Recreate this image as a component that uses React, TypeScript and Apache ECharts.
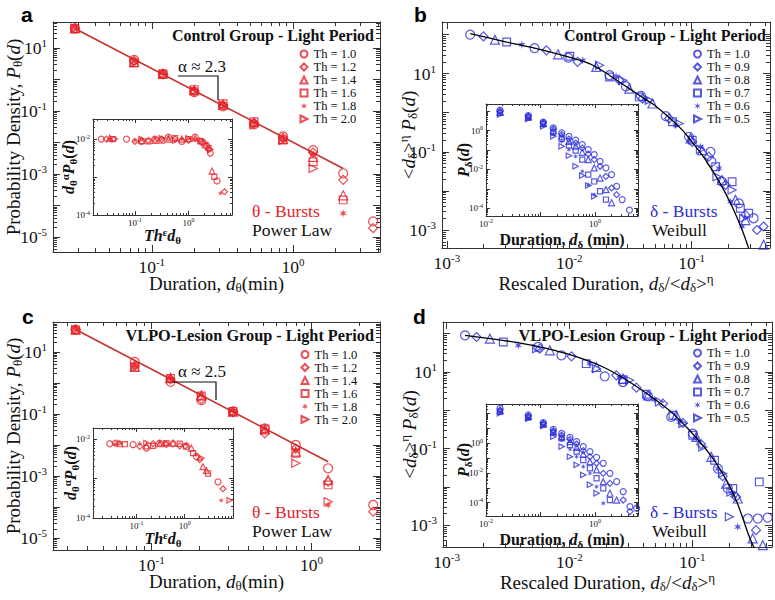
import React, { useEffect, useRef } from 'react';
import * as echarts from 'echarts';

const SERIF = '"Liberation Serif", "Times New Roman", serif';
const SANS = '"Liberation Sans", Arial, sans-serif';
const RED = '#e3242b';
const RED_LINE = '#c9302c';
const BLUE = '#2d2fd8';
const INK = '#111111';
const FRAME = '#333333';

const TH_THETA = ['Th = 1.0', 'Th = 1.2', 'Th = 1.4', 'Th = 1.6', 'Th = 1.8', 'Th = 2.0'];
const TH_DELTA = ['Th = 1.0', 'Th = 0.9', 'Th = 0.8', 'Th = 0.7', 'Th = 0.6', 'Th = 0.5'];

// ---------- Panel a : Control group, theta bursts ----------
const aDur = [0.0285, 0.075, 0.12, 0.2, 0.32, 0.53, 0.85, 1.39, 2.27, 3.7];
const aTh10 = [42, 4.2, 1.5, 0.4, 0.14, 0.038, 0.0155, 0.0057, 0.00105, 0.000031];
const aTh12 = [42, 3.9, 1.45, 0.42, 0.15, 0.04, 0.014, 0.0048, 0.00065, 0.000019];
const aTh14 = [43, 3.6, 1.55, 0.46, 0.16, 0.044, 0.013, 0.0035, 0.00021];
const aTh16 = [41, 3.4, 1.5, 0.48, 0.17, 0.046, 0.012, 0.00245, 0.00015];
const aTh18 = [44, 3.8, 1.6, 0.5, 0.165, 0.042, 0.0125, 0.0043, 0.000056];
const aTh20 = [43, 3.5, 1.5, 0.44, 0.155, 0.036, 0.0115, 0.0015];
const aFitX = [0.0285, 2.27];
const aFitY = [42, 0.0015];

// inset a : d^alpha P(d) vs Th^eps d
const iaTh10 = [[0.0237, 0.01], [0.0698, 0.01], [0.133, 0.0087], [0.237, 0.01], [0.422, 0.0113], [0.75, 0.0087], [1.33, 0.0113], [1.78, 0.0087], [2.21, 0.0064], [2.55, 0.0043], [3.4, 0.00079]];
const iaTh12 = [[0.0294, 0.01], [0.1, 0.0087], [0.178, 0.0092], [0.316, 0.01], [0.562, 0.01], [1.0, 0.0092], [1.78, 0.0079], [2.37, 0.0053], [4.67, 0.00041]];
const iaTh14 = [[0.034, 0.0106], [0.133, 0.0092], [0.237, 0.0092], [0.422, 0.01], [0.75, 0.01], [1.33, 0.0106], [2.05, 0.0071], [2.74, 0.00144]];
const iaTh16 = [[0.0393, 0.01], [0.178, 0.0087], [0.316, 0.0092], [0.562, 0.0106], [1.0, 0.01], [1.65, 0.0087], [2.37, 0.0058], [3.03, 0.00102]];
const iaTh18 = [[0.034, 0.01], [0.1, 0.0092], [0.237, 0.0106], [0.422, 0.0117], [0.75, 0.01], [1.33, 0.01], [2.21, 0.0079], [3.92, 0.00037]];
const iaTh20 = [[0.0422, 0.01], [0.133, 0.01], [0.316, 0.0106], [0.562, 0.0092], [1.0, 0.0106], [1.78, 0.0092], [2.55, 0.0053]];

// ---------- Panel b : Control group, delta bursts (rescaled) ----------
const bTh10 = [[0.00155, 99], [0.0052, 45], [0.0098, 25.6], [0.0213, 9.1], [0.029, 4.75], [0.0385, 2.7], [0.0615, 0.82], [0.095, 0.242], [0.1426, 0.1], [0.145, 0.056], [0.177, 0.0172], [0.243, 0.0048], [0.321, 0.002]];
const bTh09 = [[0.00199, 89.6], [0.0065, 39.4], [0.0117, 19.9], [0.0256, 6.76], [0.0397, 2.3], [0.0654, 0.71], [0.101, 0.18], [0.138, 0.075], [0.189, 0.0142], [0.275, 0.00243], [0.342, 0.001], [0.387, 0.00123]];
const bTh08 = [[0.00247, 73.6], [0.0081, 31.1], [0.0166, 14.8], [0.0309, 4.14], [0.0478, 1.72], [0.098, 0.22], [0.122, 0.11], [0.177, 0.019], [0.228, 0.0059], [0.275, 0.0018], [0.387, 0.00042]];
const bTh07 = [[0.00308, 64.3], [0.0101, 27.7], [0.0213, 8.2], [0.0373, 2.54], [0.0697, 0.585], [0.101, 0.199], [0.157, 0.0416], [0.214, 0.0172], [0.25, 0.0036], [0.292, 0.0027]];
const bTh06 = [[0.0041, 55], [0.0129, 21.9], [0.0241, 8.55], [0.0423, 2.17], [0.0741, 0.48], [0.118, 0.135], [0.167, 0.038], [0.207, 0.0053], [0.258, 0.00123]];
const bTh05 = [[0.0177, 16.3], [0.0273, 6.76], [0.045, 2.09], [0.0789, 0.53], [0.118, 0.115], [0.161, 0.0231], [0.214, 0.0106], [0.266, 0.002]];
const bFit = [[0.00155, 105], [0.00308, 64.3], [0.0052, 45], [0.00946, 27.7], [0.0146, 18], [0.0188, 11.7], [0.0256, 6.12], [0.0309, 4.14], [0.0397, 2.44], [0.0509, 1.47], [0.0654, 0.755], [0.084, 0.358], [0.098, 0.199], [0.122, 0.0826], [0.147, 0.0342], [0.177, 0.0129], [0.214, 0.00397], [0.258, 0.00101], [0.292, 0.000344]];

// inset b : P(d) vs duration
const ibDur = [0.0181, 0.0597, 0.1125, 0.172, 0.245, 0.333, 0.442, 0.585, 0.753, 0.97, 1.24, 1.59, 2.02, 2.5, 3.16, 4.3];
const ibTh10 = [11.2, 5.9, 2.7, 1.37, 0.76, 0.51, 0.32, 0.19, 0.105, 0.058, 0.026, 0.0119, 0.0054, 0.00135, 0.00028, 0.00008];
const ibTh09 = [9.9, 5.5, 2.5, 1.22, 0.62, 0.37, 0.23, 0.128, 0.063, 0.032, 0.0145, 0.0044, 0.0011, 0.0005];
const ibTh08 = [8.8, 5.1, 2.3, 1.04, 0.51, 0.28, 0.156, 0.076, 0.032, 0.0119, 0.0036, 0.00091, 0.00019];
const ibTh07 = [8.1, 4.7, 2.2, 0.82, 0.37, 0.169, 0.093, 0.032, 0.0054, 0.0024, 0.00075, 0.00028];
const ibTh06 = [7.5, 4.3, 2.0, 0.62, 0.28, 0.105, 0.0475, 0.008, 0.0016, 0.0005];
const ibTh05 = [6.7, 4.0, 1.67, 0.51, 0.156, 0.051, 0.0145, 0.0048, 0.0015, 0.00041];

// ---------- Panel c : VLPO-lesion group, theta bursts ----------
const cDur = [0.0336, 0.0787, 0.1315, 0.205, 0.3236, 0.511, 0.798, 1.27, 2.43];
const cTh10 = [52, 4.76, 1.08, 0.28, 0.12, 0.034, 0.01, 0.00178, 0.000117];
const cTh12 = [51, 3.6, 1.3, 0.3, 0.115, 0.0237, 0.0078, 0.00066, 0.0000716];
const cTh14 = [52, 3.3, 1.45, 0.4, 0.118, 0.032, 0.0061, 0.00075];
const cTh16 = [50, 3.2, 1.4, 0.38, 0.12, 0.033, 0.0054, 0.00052];
const cTh18 = [53, 3.4, 1.35, 0.42, 0.125, 0.035, 0.0066, 0.000117];
const cTh20 = [52, 3.3, 1.3, 0.36, 0.113, 0.03, 0.0026, 0.00015];
const cFitX = [0.0336, 1.27];
const cFitY = [52, 0.0029];

const icTh10 = [[0.028, 0.0076], [0.0853, 0.0072], [0.161, 0.0059], [0.304, 0.0079], [0.574, 0.0076], [1.08, 0.0065], [1.74, 0.0036], [4.9, 0.00082]];
const icTh12 = [[0.0357, 0.0079], [0.117, 0.0065], [0.221, 0.0076], [0.418, 0.0072], [0.789, 0.0067], [2.04, 0.003], [6.2, 0.00055]];
const icTh14 = [[0.0452, 0.0076], [0.161, 0.0067], [0.304, 0.0076], [0.574, 0.0079], [1.37, 0.0059], [2.39, 0.002], [2.81, 0.0016]];
const icTh16 = [[0.0574, 0.0074], [0.221, 0.0067], [0.418, 0.0079], [0.789, 0.0076], [1.49, 0.0044], [3.04, 0.00134]];
const icTh18 = [[0.0357, 0.0074], [0.117, 0.0076], [0.304, 0.0082], [1.08, 0.0076], [1.74, 0.004], [5.7, 0.00028]];
const icTh20 = [[0.0452, 0.0079], [0.161, 0.0079], [0.418, 0.0076], [1.08, 0.0065], [2.21, 0.0033], [8.5, 0.00028]];

// ---------- Panel d : VLPO-lesion group, delta bursts (rescaled) ----------
const dTh10 = [[0.00141, 90.6], [0.00556, 44.9], [0.0086, 27.2], [0.0194, 7.7], [0.0273, 5.48], [0.0437, 2.32], [0.0675, 0.67], [0.101, 0.246], [0.162, 0.03], [0.195, 0.0091], [0.284, 0.00149], [0.342, 0.00149], [0.412, 0.00158]];
const dTh09 = [[0.00175, 81.8], [0.00574, 40.6], [0.0104, 25.6], [0.0241, 8.18], [0.0351, 3.9], [0.0578, 1.49], [0.084, 0.468], [0.118, 0.13], [0.177, 0.019], [0.228, 0.00548], [0.331, 0.00074]];
const dTh08 = [[0.00225, 74], [0.00692, 36.7], [0.0166, 13.5], [0.0273, 6.7], [0.0437, 2.46], [0.0741, 0.741], [0.108, 0.201], [0.143, 0.0607], [0.189, 0.0122], [0.235, 0.00497], [0.311, 0.00045], [0.376, 0.0003]];
const dTh07 = [[0.00289, 60.6], [0.0137, 16.5], [0.0273, 6.3], [0.0423, 2.61], [0.0697, 0.741], [0.101, 0.223], [0.152, 0.0497], [0.214, 0.0091], [0.352, 0.0135]];
const dTh06 = [[0.00383, 49.6], [0.0146, 16.5], [0.0256, 7.1], [0.0494, 1.9], [0.0789, 0.496], [0.108, 0.182], [0.162, 0.03], [0.214, 0.00607], [0.235, 0.000906]];
const dTh05 = [[0.0054, 40.6], [0.0166, 12.2], [0.0309, 6.06], [0.0542, 1.65], [0.084, 0.449], [0.122, 0.11], [0.177, 0.0223], [0.207, 0.0074], [0.201, 0.00165]];
const dFit = [[0.00141, 90.6], [0.0042, 54.8], [0.00946, 30], [0.0188, 13.5], [0.0309, 5.48], [0.0509, 1.82], [0.0697, 0.818], [0.095, 0.3], [0.138, 0.074], [0.177, 0.0223], [0.228, 0.00449], [0.292, 0.000497], [0.321, 0.000246]];

const idDur = [0.0181, 0.0597, 0.1125, 0.172, 0.245, 0.348, 0.461, 0.61, 0.809, 1.07, 1.42, 1.88, 2.5, 3.3, 4.39, 5.82];
const idTh10 = [228, 81, 24.7, 8.8, 4.7, 2.5, 1.29, 0.6, 0.275, 0.114, 0.045, 0.0095, 0.0026, 0.00056, 0.000054, 0.000042];
const idTh09 = [[0.0181, 176], [0.0597, 69], [0.1125, 22.2], [0.172, 7.1], [0.245, 3.6], [0.348, 1.86], [0.461, 0.9], [0.61, 0.32], [0.809, 0.126], [1.07, 0.045], [1.42, 0.0095], [1.88, 0.002], [3.3, 0.00015], [4.39, 0.000025]];
const idTh08 = [158, 62.5, 20, 6.1, 2.8, 1.29, 0.54, 0.19, 0.058, 0.016, 0.0026, 0.00043, 0.00015];
const idTh07 = [135, 56, 18, 5.2, 2.17, 0.77, 0.275, 0.075, 0.0207, 0.0044, 0.00093, 0.00015];
const idTh06 = [116, 51, 16.3, 4.25, 1.67, 0.39, 0.126, 0.027, 0.0095, 0.0012, 0.000091];
const idTh05 = [105, 46, 14.7, 2.8, 0.6, 0.126, 0.035, 0.0074, 0.0016, 0.00043];

// ---------- layout ----------
// [left, top, width, height]
const GRIDS = [
  [53, 22, 327, 230],
  [442, 22, 328, 226],
  [53, 322, 327, 228],
  [443, 322, 329, 225],
  [93, 119, 139, 96],
  [486, 104, 152, 112],
  [93, 428, 140, 90],
  [486, 404, 152, 112],
];

const STAR6 = 'path://M0,-5L0.9,-1.56L4.33,-2.5L1.8,0L4.33,2.5L0.9,1.56L0,5L-0.9,1.56L-4.33,2.5L-1.8,0L-4.33,-2.5L-0.9,-1.56Z';
const TRI_RIGHT = 'path://M0,0L10,5L0,10Z';
const SHAPES = [
  { symbol: 'circle', hollow: true, k: 1 },
  { symbol: 'diamond', hollow: true, k: 1 },
  { symbol: 'triangle', hollow: true, k: 1 },
  { symbol: 'rect', hollow: true, k: 0.85 },
  { symbol: STAR6, hollow: false, k: 0.95 },
  { symbol: TRI_RIGHT, hollow: true, k: 0.9 },
];

function zip(xs: number[], ys: number[]) {
  return ys.map((y, i) => [xs[i], y]);
}

function expLabel(v: number) {
  const e = Math.round(Math.log10(v));
  return '{b|10}{s|' + e + '}';
}

const mainRich = {
  i: { fontFamily: SERIF, fontSize: 19, fontStyle: 'italic', color: INK, lineHeight: 20 },
  sub: { fontFamily: SERIF, fontSize: 13, color: INK, lineHeight: 11, padding: [9, 0, 0, 0] },
  sup: { fontFamily: SERIF, fontSize: 13, color: INK, lineHeight: 11, padding: [0, 0, 9, 0] },
};
const insetRich = {
  bi: { fontFamily: SERIF, fontSize: 16, fontStyle: 'italic', fontWeight: 'bold', color: INK, lineHeight: 17 },
  bsub: { fontFamily: SERIF, fontSize: 11, fontWeight: 'bold', color: INK, lineHeight: 9, padding: [8, 0, 0, 0] },
  bsup: { fontFamily: SERIF, fontSize: 11, fontWeight: 'bold', color: INK, lineHeight: 9, padding: [0, 0, 8, 0] },
};

function axisSet(dim: string, grid: number, lo: number, hi: number, labelExps: number[], big: boolean, name: string, gap: number) {
  const min = Math.pow(10, lo);
  const max = Math.pow(10, hi);
  const major: number[] = [];
  for (let e = Math.ceil(lo); e <= Math.floor(hi); e++) major.push(Math.pow(10, e));
  const minor: number[] = [];
  for (let e = Math.floor(lo); e <= Math.ceil(hi); e++) {
    for (let k = 2; k <= 9; k++) {
      const v = k * Math.pow(10, e);
      if (v > min && v < max) minor.push(v);
    }
  }
  const side = dim === 'x' ? ['bottom', 'top'] : ['left', 'right'];
  const line = { color: FRAME, width: 1 };
  const lens = big ? [7, 4] : [4, 2];
  const common: any = {
    type: 'log', logBase: 10, gridIndex: grid, min, max,
    splitLine: { show: false }, silent: true, nameMoveOverlap: false,
  };
  const labelRich = big
    ? {
        b: { fontFamily: SERIF, fontSize: 17.5, color: INK, lineHeight: 18 },
        s: { fontFamily: SERIF, fontSize: 11, color: INK, lineHeight: 8, padding: [0, 0, 10, 0] },
      }
    : {
        b: { fontFamily: SERIF, fontSize: 9, color: INK, lineHeight: 9 },
        s: { fontFamily: SERIF, fontSize: 6, color: INK, lineHeight: 4, padding: [0, 0, 5, 0] },
      };
  const primary = {
    ...common,
    position: side[0],
    axisLine: { show: true, onZero: false, lineStyle: line },
    axisTick: { show: true, inside: true, length: lens[0], customValues: major, lineStyle: line },
    axisLabel: { show: true, customValues: labelExps.map((e) => Math.pow(10, e)), formatter: expLabel, margin: big ? 6 : 3, rich: labelRich },
    name,
    nameLocation: 'middle',
    nameGap: gap,
    nameTextStyle: big
      ? { fontFamily: SERIF, fontSize: 19, color: INK, lineHeight: 20, rich: mainRich }
      : { fontFamily: SERIF, fontSize: 16, fontWeight: 'bold', color: INK, lineHeight: 17, rich: insetRich },
  };
  const mirror = {
    ...common,
    position: side[1],
    axisLine: { show: true, onZero: false, lineStyle: line },
    axisTick: { show: true, inside: true, length: lens[0], customValues: major, lineStyle: line },
    axisLabel: { show: false },
  };
  const minorA = {
    ...common,
    position: side[0],
    axisLine: { show: false },
    axisTick: { show: true, inside: true, length: lens[1], customValues: minor, lineStyle: line },
    axisLabel: { show: false },
  };
  const minorB = { ...minorA, position: side[1] };
  return [primary, mirror, minorA, minorB];
}

function scatter(name: string, data: number[][], shapeIdx: number, color: string, size: number, g: number) {
  const sh = SHAPES[shapeIdx];
  return {
    type: 'scatter',
    name,
    data,
    xAxisIndex: g * 4,
    yAxisIndex: g * 4,
    symbol: sh.symbol,
    symbolSize: Math.round(size * sh.k * 10) / 10,
    symbolKeepAspect: true,
    itemStyle: sh.hollow
      ? { color: 'rgba(255,255,255,0)', borderColor: color, borderWidth: 1.2 }
      : { color, borderWidth: 0 },
    emphasis: { disabled: true },
    z: 3,
  };
}

function buildOption() {
  const grids = GRIDS.map((g) => ({ left: g[0], top: g[1], width: g[2], height: g[3], show: true, backgroundColor: '#ffffff', borderWidth: 0 }));

  const axisDefs = [
    // grid, x[lo,hi], xlabels, y[lo,hi], ylabels, big, xname, xgap, yname, ygap
    [0, [-1.7, 0.617], [-1, 0], [-5.48, 1.83], [1, -1, -3, -5], true, 'Duration, {i|d}{sub|θ}(min)', 21, 'Probability Density, {i|P}{sub|θ}({i|d})', 30],
    [1, [-3.04, -0.36], [-3, -2, -1], [-3.46, 2.32], [1, -1, -3], true, 'Rescaled Duration, {i|d}{sub|δ}/<{i|d}{sub|δ}>{sup|η}', 25, '<{i|d}{sub|δ}>{sup|η} {i|P}{sub|δ}({i|d})', 24],
    [2, [-1.615, 0.428], [-1, 0], [-5.38, 1.96], [1, -1, -3, -5], true, 'Duration, {i|d}{sub|θ}(min)', 21, 'Probability Density, {i|P}{sub|θ}({i|d})', 30],
    [3, [-3.03, -0.35], [-3, -2, -1], [-3.57, 2.305], [1, -1, -3], true, 'Rescaled Duration, {i|d}{sub|δ}/<{i|d}{sub|δ}>{sup|η}', 25, '<{i|d}{sub|δ}>{sup|η} {i|P}{sub|δ}({i|d})', 24],
    [4, [-1.78, 0.81], [-1, 0], [-4, -1.47], [-2, -4], false, '{bi|Th}{bsup|ε}{bi|d}{bsub|θ}', 12, '{bi|d}{bsub|θ}{bsup|α}{bi|P}{bsub|θ}({bi|d})', 16],
    [5, [-2, 0.79], [-2, 0], [-4.4, 1.37], [0, -2, -4], false, 'Duration, {bi|d}{bsub|δ} (min)', 15, '{bi|P}{bsub|δ}({bi|d})', 14],
    [6, [-1.9, 1.0], [-1, 0], [-4, -1.72], [-2, -4], false, '{bi|Th}{bsup|ε}{bi|d}{bsub|θ}', 12, '{bi|d}{bsub|θ}{bsup|α}{bi|P}{bsub|θ}({bi|d})', 14],
    [7, [-2, 0.79], [-2, 0], [-4.9, 2.65], [0, -2, -4], false, 'Duration, {bi|d}{bsub|δ} (min)', 15, '{bi|P}{bsub|δ}({bi|d})', 14],
  ] as any[];

  const xAxis: any[] = [];
  const yAxis: any[] = [];
  axisDefs.forEach((d) => {
    xAxis.push(...axisSet('x', d[0], d[1][0], d[1][1], d[2], d[5], d[6], d[7]));
    yAxis.push(...axisSet('y', d[0], d[3][0], d[3][1], d[4], d[5], d[8], d[9]));
  });

  const series: any[] = [];
  const mainSize = 9;
  const insetSize = 6;

  const aSets = [aTh10, aTh12, aTh14, aTh16, aTh18, aTh20];
  aSets.forEach((ys, i) => series.push(scatter('a|' + TH_THETA[i], zip(aDur, ys), i, RED, mainSize, 0)));
  series.push({ type: 'line', name: 'aFit', data: zip(aFitX, aFitY), xAxisIndex: 0, yAxisIndex: 0, symbol: 'none', lineStyle: { color: RED_LINE, width: 1.6 }, z: 2, silent: true });

  const bSets = [bTh10, bTh09, bTh08, bTh07, bTh06, bTh05];
  bSets.forEach((d, i) => series.push(scatter('b|' + TH_DELTA[i], d, i, BLUE, mainSize, 1)));
  series.push({ type: 'line', name: 'bFit', data: bFit, xAxisIndex: 4, yAxisIndex: 4, symbol: 'none', smooth: 0.3, lineStyle: { color: '#000', width: 1.3 }, z: 4, silent: true });

  const cSets = [cTh10, cTh12, cTh14, cTh16, cTh18, cTh20];
  cSets.forEach((ys, i) => series.push(scatter('c|' + TH_THETA[i], zip(cDur, ys), i, RED, mainSize, 2)));
  series.push({ type: 'line', name: 'cFit', data: zip(cFitX, cFitY), xAxisIndex: 8, yAxisIndex: 8, symbol: 'none', lineStyle: { color: RED_LINE, width: 1.6 }, z: 2, silent: true });

  const dSets = [dTh10, dTh09, dTh08, dTh07, dTh06, dTh05];
  dSets.forEach((d, i) => series.push(scatter('d|' + TH_DELTA[i], d, i, BLUE, mainSize, 3)));
  series.push({ type: 'line', name: 'dFit', data: dFit, xAxisIndex: 12, yAxisIndex: 12, symbol: 'none', smooth: 0.3, lineStyle: { color: '#000', width: 1.3 }, z: 4, silent: true });

  const iaSets = [iaTh10, iaTh12, iaTh14, iaTh16, iaTh18, iaTh20];
  iaSets.forEach((d, i) => series.push(scatter('ia' + i, d, i, RED, insetSize, 4)));
  const ibSets = [ibTh10, ibTh09, ibTh08, ibTh07, ibTh06, ibTh05];
  ibSets.forEach((ys, i) => series.push(scatter('ib' + i, zip(ibDur, ys), i, BLUE, insetSize, 5)));
  const icSets = [icTh10, icTh12, icTh14, icTh16, icTh18, icTh20];
  icSets.forEach((d, i) => series.push(scatter('ic' + i, d, i, RED, insetSize, 6)));
  const idSets = [zip(idDur, idTh10), idTh09, zip(idDur, idTh08), zip(idDur, idTh07), zip(idDur, idTh06), zip(idDur, idTh05)];
  idSets.forEach((d, i) => series.push(scatter('id' + i, d, i, BLUE, insetSize, 7)));

  const legendDefs = [
    ['a', 299.5, 47.5, TH_THETA, 10.8],
    ['b', 693, 47.5, TH_DELTA, 10.8],
    ['c', 300.5, 348, TH_THETA, 10.8],
    ['d', 693, 346.5, TH_DELTA, 10.3],
  ] as any[];
  const legend = legendDefs.map((l) => ({
    left: l[1],
    top: l[2],
    orient: 'vertical',
    padding: 0,
    itemGap: 0,
    itemWidth: 7,
    itemHeight: 7,
    selectedMode: false,
    data: l[3].map((n: string) => l[0] + '|' + n),
    formatter: (n: string) => n.split('|')[1],
    textStyle: { fontFamily: SERIF, fontSize: 12.5, color: INK, lineHeight: l[4], padding: [0, 0, 0, 1] },
  }));

  const txt = (x: number, y: number, text: string, font: string, fill: string, align = 'left') => ({
    type: 'text',
    x,
    y,
    z: 10,
    style: { text, font, fill, align, verticalAlign: 'middle', textAlign: align, textVerticalAlign: 'middle' },
  });
  const bracket = (pts: number[][]) => ({
    type: 'polyline',
    z: 10,
    shape: { points: pts },
    style: { stroke: INK, lineWidth: 1.2, fill: null },
  });

  const graphic = [
    txt(21, 14, 'a', 'bold 21px ' + SANS, '#000'),
    txt(414, 14, 'b', 'bold 21px ' + SANS, '#000'),
    txt(22, 316, 'c', 'bold 21px ' + SANS, '#000'),
    txt(413, 316, 'd', 'bold 21px ' + SANS, '#000'),
    txt(374, 35, 'Control Group - Light Period', 'bold 16px ' + SERIF, INK, 'right'),
    txt(766, 35, 'Control Group - Light Period', 'bold 16px ' + SERIF, INK, 'right'),
    txt(374, 335, 'VLPO-Lesion Group - Light Period', 'bold 16.3px ' + SERIF, INK, 'right'),
    txt(767, 335, 'VLPO-Lesion Group - Light Period', 'bold 16.3px ' + SERIF, INK, 'right'),
    txt(178, 66, 'α ≈ 2.3', '17px ' + SERIF, INK),
    bracket([[178, 76], [218, 76], [218, 100]]),
    txt(178, 371, 'α ≈ 2.5', '17px ' + SERIF, INK),
    bracket([[172, 382], [216, 382], [216, 400]]),
    txt(252, 211, 'θ - Bursts', '17.5px ' + SERIF, RED),
    txt(252, 230, 'Power Law', '17.5px ' + SERIF, INK),
    txt(650, 211, 'δ - Bursts', '17.5px ' + SERIF, BLUE),
    txt(652, 230, 'Weibull', '17.5px ' + SERIF, INK),
    txt(252, 512, 'θ - Bursts', '17.5px ' + SERIF, RED),
    txt(252, 531, 'Power Law', '17.5px ' + SERIF, INK),
    txt(650, 512, 'δ - Bursts', '17.5px ' + SERIF, BLUE),
    txt(652, 531, 'Weibull', '17.5px ' + SERIF, INK),
  ];

  return {
    animation: false,
    backgroundColor: '#ffffff',
    textStyle: { fontFamily: SERIF },
    grid: grids,
    xAxis,
    yAxis,
    legend,
    series,
    graphic,
  };
}

export default function App() {
  const ref = useRef<HTMLDivElement>(null);
  useEffect(() => {
    const chart = echarts.init(ref.current as HTMLDivElement, null, { renderer: 'svg' });
    chart.setOption(buildOption() as any);
    return () => chart.dispose();
  }, []);
  return <div ref={ref} style={{ position: 'fixed', left: 0, top: 0, width: 775, height: 600, background: '#fff' }} />;
}
